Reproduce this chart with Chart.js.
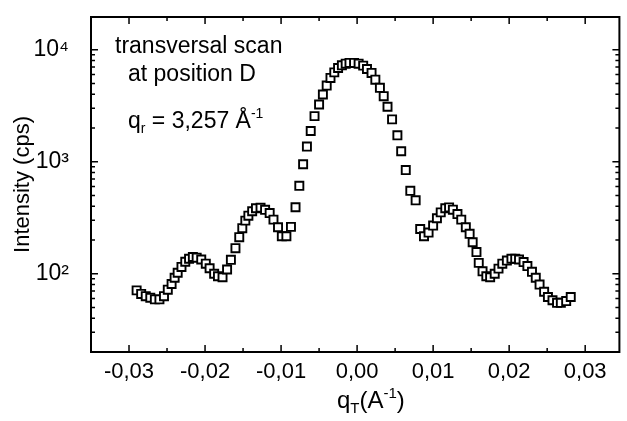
<!DOCTYPE html>
<html>
<head>
<meta charset="utf-8">
<script src="https://cdn.jsdelivr.net/npm/chart.js@4.4.1/dist/chart.umd.min.js"></script>
<style>
  html, body { margin: 0; padding: 0; background: #fff; }
  #wrap { width: 627px; height: 421px; }
</style>
</head>
<body>
<div id="wrap"><canvas id="scan-chart"></canvas></div>
<script>
'use strict';

// *** Data ***

let qValues = [
  -0.0290, -0.0284, -0.0278, -0.0272, -0.0266, -0.0260, -0.0254, -0.0249, -0.0244, -0.0240,
  -0.0236, -0.0231, -0.0226, -0.0221, -0.0216, -0.0211, -0.0205, -0.0199, -0.0194, -0.0188,
  -0.0183, -0.0177, -0.0171, -0.0166, -0.0160, -0.0155, -0.0151, -0.0147, -0.0143, -0.0138,
  -0.0133, -0.0127, -0.0121, -0.0115, -0.0110, -0.0104, -0.0099, -0.0093, -0.0087, -0.0081,
  -0.0076, -0.0071, -0.0066, -0.0061, -0.0056, -0.0050, -0.0045, -0.0040, -0.0035, -0.0030,
  -0.0025, -0.0020, -0.0015, -0.0010, -0.0004, 0.0002, 0.0008, 0.0013, 0.0019, 0.0024,
  0.0030, 0.0035, 0.0040, 0.0046, 0.0053, 0.0058, 0.0064, 0.0070, 0.0077, 0.0083,
  0.0088, 0.0094, 0.0100, 0.0105, 0.0110, 0.0116, 0.0121, 0.0126, 0.0132, 0.0137,
  0.0143, 0.0148, 0.0152, 0.0157, 0.0160, 0.0165, 0.0170, 0.0175, 0.0181, 0.0186,
  0.0191, 0.0197, 0.0203, 0.0208, 0.0213, 0.0219, 0.0224, 0.0230, 0.0235, 0.0240,
  0.0246, 0.0251, 0.0257, 0.0263, 0.0268, 0.0275, 0.0281
];

let intensityValues = [
  71, 66, 63, 61, 59, 59, 63, 72, 81, 92,
  102, 115, 128, 136, 141, 139, 134, 123, 112, 100,
  95, 93, 109, 133, 169, 212, 255, 298, 330, 361,
  384, 388, 372, 348, 304, 260, 216, 216, 262, 392,
  609, 950, 1365, 1880, 2553, 3245, 3981, 4786, 5598, 6280,
  6870, 7256, 7510, 7620, 7620, 7510, 7210, 6730, 6210, 5400,
  4570, 3850, 3098, 2388, 1720, 1240, 842, 550, 452, 251,
  216, 233, 269, 313, 353, 384, 391, 373, 341, 304,
  260, 227, 191, 156, 125, 105, 95, 93, 100, 111,
  123, 131, 136, 136, 134, 127, 117, 104, 92, 80,
  69, 62, 58, 55, 55, 57, 62
];

let xTickValues = [-0.03, -0.02, -0.01, 0, 0.01, 0.02, 0.03];
let xTickLabels = ['-0,03', '-0,02', '-0,01', '0,00', '0,01', '0,02', '0,03'];
let xMinorTicks = [-0.025, -0.015, -0.005, 0.005, 0.015, 0.025];

let yTickValues = [100, 1000, 10000];
let yTickLabels = ['10\u00B2', '10\u00B3', '10\u2074'];
let yMinorTicks = [30, 40, 50, 60, 70, 80, 90, 200, 300, 400, 500, 600, 700, 800, 900,
  2000, 3000, 4000, 5000, 6000, 7000, 8000, 9000];

let fontFamily = "'Liberation Sans', Arial, Helvetica, sans-serif";

// *** Helpers ***

// Draw a line of text made of normal, subscript and superscript parts
function drawRichText(ctx, x, y, parts, size) {
  let cursor = x;
  for (let i = 0; i < parts.length; i++) {
    let part = parts[i];
    let partSize = size;
    let shift = 0;
    if (part.sub) {
      partSize = Math.round(size * 0.62);
      shift = size * 0.22;
    } else if (part.sup) {
      partSize = Math.round(size * 0.62);
      shift = -size * 0.42;
    }
    ctx.font = partSize + 'px ' + fontFamily;
    ctx.fillText(part.t, cursor, y + shift);
    cursor += ctx.measureText(part.t).width;
  }
}

// No extra room round the plot for the end labels, the box is placed by hand
function dropLabelPadding(scale) {
  scale.paddingTop = 0;
  scale.paddingBottom = 0;
  scale.paddingLeft = 0;
  scale.paddingRight = 0;
}

// *** Plugins ***

// Box round the plot with inward ticks on all four sides
let frameTicks = {
  id: 'frameTicks',
  afterDatasetsDraw(chart) {
    let ctx = chart.ctx;
    let area = chart.chartArea;
    let xScale = chart.scales.x;
    let yScale = chart.scales.y;

    ctx.save();
    ctx.strokeStyle = '#000';
    ctx.lineWidth = 2;
    ctx.strokeRect(area.left, area.top, area.right - area.left, area.bottom - area.top);

    ctx.lineWidth = 1.5;
    ctx.beginPath();
    function xTick(value, len) {
      let px = xScale.getPixelForValue(value);
      ctx.moveTo(px, area.bottom);
      ctx.lineTo(px, area.bottom - len);
      ctx.moveTo(px, area.top);
      ctx.lineTo(px, area.top + len);
    }
    function yTick(value, len) {
      let py = yScale.getPixelForValue(value);
      ctx.moveTo(area.left, py);
      ctx.lineTo(area.left + len, py);
      ctx.moveTo(area.right, py);
      ctx.lineTo(area.right - len, py);
    }
    xTickValues.forEach(v => xTick(v, 7));
    xMinorTicks.forEach(v => xTick(v, 4));
    yTickValues.forEach(v => yTick(v, 7));
    yMinorTicks.forEach(v => yTick(v, 4));
    ctx.stroke();
    ctx.restore();
  }
};

// Note in the upper left corner and the x axis title
let textNotes = {
  id: 'textNotes',
  afterDraw(chart) {
    let ctx = chart.ctx;
    ctx.save();
    ctx.fillStyle = '#000';
    ctx.textBaseline = 'alphabetic';
    ctx.textAlign = 'left';
    drawRichText(ctx, 115, 53, [{ t: 'transversal scan' }], 23);
    drawRichText(ctx, 128, 81, [{ t: 'at position D' }], 23);
    drawRichText(ctx, 128, 128, [
      { t: 'q' }, { t: 'r', sub: true }, { t: ' = 3,257 \u00C5' }, { t: '-1', sup: true }
    ], 23);
    drawRichText(ctx, 337, 408, [
      { t: 'q' }, { t: 'T', sub: true }, { t: '(A' }, { t: '-1', sup: true }, { t: ')' }
    ], 24);
    ctx.restore();
  }
};

// *** Chart ***

let scanPoints = qValues.map((q, i) => ({ x: q, y: intensityValues[i] }));

let ctx = document.getElementById('scan-chart');

new Chart(ctx, {
  type: 'scatter',
  data: {
    datasets: [{
      label: 'transversal scan',
      data: scanPoints,
      pointStyle: 'rect',
      pointRadius: 5.7,
      borderWidth: 1.9,
      borderColor: '#000',
      backgroundColor: '#fff',
      showLine: false
    }]
  },
  options: {
    responsive: true,
    maintainAspectRatio: false,
    animation: false,
    layout: { padding: { left: 0, top: 17, right: 2, bottom: 0 } },
    plugins: {
      legend: { display: false },
      tooltip: { enabled: false }
    },
    scales: {
      x: {
        type: 'linear',
        bounds: 'data',
        min: -0.035,
        max: 0.0345,
        afterBuildTicks: scale => { scale.ticks = xTickValues.map(v => ({ value: v })); },
        afterFit: scale => {
          scale.height = 69;
          dropLabelPadding(scale);
        },
        grid: { display: false, drawTicks: false },
        border: { display: false },
        ticks: {
          autoSkip: false,
          maxRotation: 0,
          padding: 7,
          color: '#000',
          font: { family: fontFamily, size: 22 },
          callback: (value, index) => xTickLabels[index]
        }
      },
      y: {
        type: 'logarithmic',
        bounds: 'data',
        min: 20,
        max: 19600,
        afterBuildTicks: scale => { scale.ticks = yTickValues.map(v => ({ value: v })); },
        afterFit: scale => {
          scale.width = 91;
          dropLabelPadding(scale);
        },
        grid: { display: false, drawTicks: false },
        border: { display: false },
        ticks: {
          autoSkip: false,
          padding: 22,
          color: '#000',
          font: { family: fontFamily, size: 23 },
          callback: (value, index) => yTickLabels[index]
        },
        title: {
          display: true,
          text: 'Intensity (cps)',
          color: '#000',
          font: { family: fontFamily, size: 22 },
          padding: { top: 10, bottom: 0 }
        }
      }
    }
  },
  plugins: [frameTicks, textNotes]
});
</script>
</body>
</html>
